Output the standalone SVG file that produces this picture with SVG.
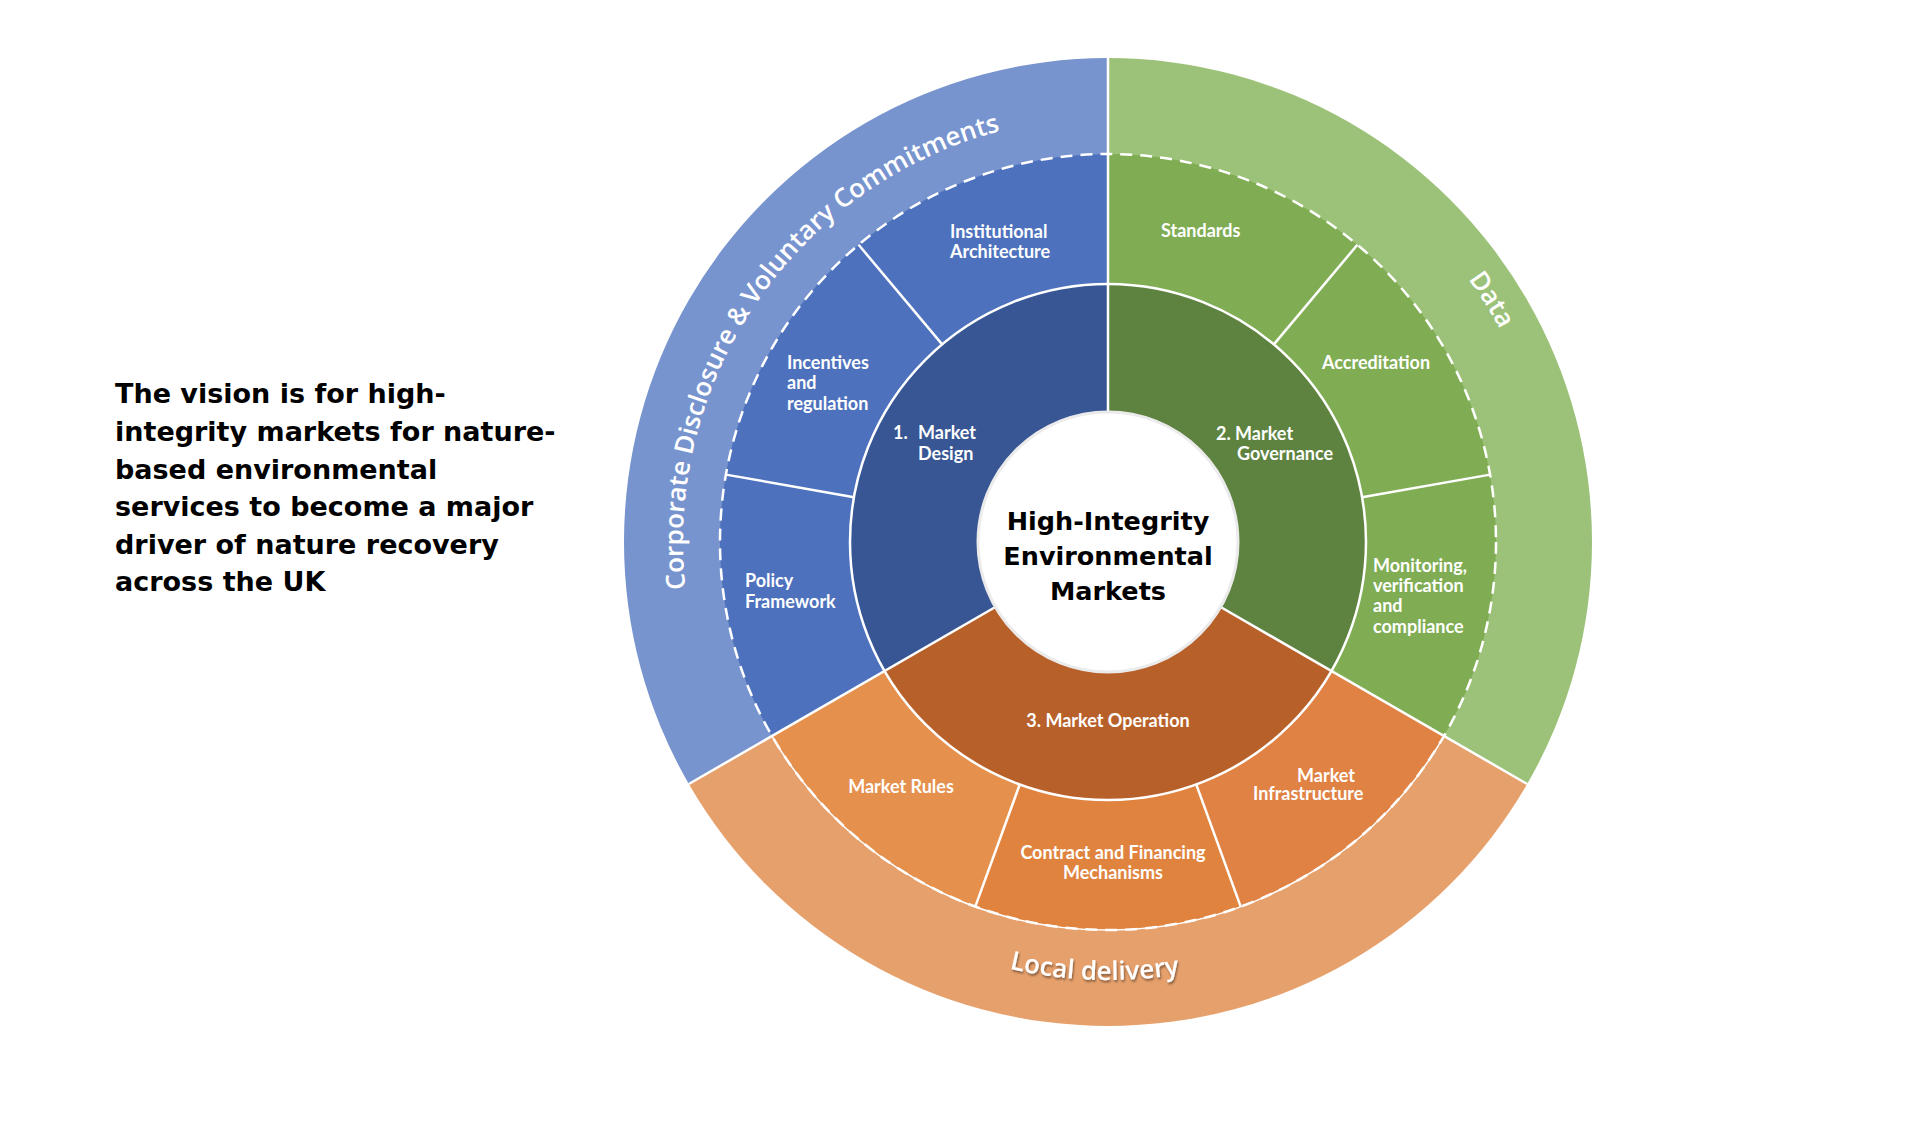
<svg xmlns="http://www.w3.org/2000/svg" width="1920" height="1134" viewBox="0 0 1920 1134">
<style>
.lbl{font-family:"Lato","Open Sans","Liberation Sans",sans-serif;font-weight:700;font-size:18px;fill:#ffffff;}
.mid{text-anchor:middle;}
.arc{font-family:"Open Sans","Lato","Liberation Sans",sans-serif;font-weight:600;font-size:26px;fill:#ffffff;}
.sep{stroke:#ffffff;stroke-width:2.5;fill:none;}
.vision{font-family:"DejaVu Sans","Verdana",sans-serif;font-weight:700;font-size:27px;fill:#000000;}
.core{font-family:"DejaVu Sans","Verdana",sans-serif;font-weight:700;font-size:25.5px;fill:#000000;text-anchor:middle;}
</style>
<defs>
<path id="pCorp" d="M 782.43 815.18 A 425 425 0 0 1 1246.37 140.15"/>
<path id="pData" d="M 1315.32 147.11 A 446 446 0 0 1 1553.64 524.10"/>
<path id="pLocal" d="M 721.99 748.98 A 438 438 0 0 0 1480.25 772.81"/>
<filter id="sh" x="-10%" y="-30%" width="120%" height="160%">
<feDropShadow dx="1" dy="2" stdDeviation="1.2" flood-color="#000000" flood-opacity="0.45"/>
</filter>
</defs>
<rect x="0" y="0" width="1920" height="1134" fill="#ffffff"/>

<g id="vision-text">
<text class="vision" x="115" y="403">The vision is for high-</text>
<text class="vision" x="115" y="441">integrity markets for nature-</text>
<text class="vision" x="115" y="479">based environmental</text>
<text class="vision" x="115" y="516">services to become a major</text>
<text class="vision" x="115" y="554">driver of nature recovery</text>
<text class="vision" x="115" y="591">across the UK</text>
</g>

<g id="outer-corporate">
<path d="M 1108 542 L 688.84 784 A 484 484 0 0 1 1108 58 Z" fill="#7894CE"/>
<text class="arc"><textPath href="#pCorp" startOffset="50%" text-anchor="middle">Corporate Disclosure &amp; Voluntary Commitments</textPath></text>
</g>
<g id="outer-data">
<path d="M 1108 542 L 1108 58 A 484 484 0 0 1 1527.16 784 Z" fill="#9CC27A"/>
<text class="arc"><textPath href="#pData" startOffset="50%" text-anchor="middle">Data</textPath></text>
</g>
<g id="outer-local">
<path d="M 1108 542 L 1527.16 784 A 484 484 0 0 1 688.84 784 Z" fill="#E6A06C"/>
<text class="arc" filter="url(#sh)"><textPath href="#pLocal" startOffset="50%" text-anchor="middle">Local delivery</textPath></text>
</g>

<g id="institutional-architecture">
<path d="M 1108 542 L 858.60 244.77 A 388 388 0 0 1 1108 154 Z" fill="#4D71BD"/>
<text class="lbl" x="950" y="238">Institutional</text>
<text class="lbl" x="950" y="258">Architecture</text>
</g>
<g id="incentives-regulation">
<path d="M 1108 542 L 725.89 474.62 A 388 388 0 0 1 858.60 244.77 Z" fill="#4D71BD"/>
<text class="lbl" x="787" y="369">Incentives</text>
<text class="lbl" x="787" y="389">and</text>
<text class="lbl" x="787" y="410">regulation</text>
</g>
<g id="policy-framework">
<path d="M 1108 542 L 771.98 736 A 388 388 0 0 1 725.89 474.62 Z" fill="#4D71BD"/>
<text class="lbl" x="745" y="587">Policy</text>
<text class="lbl" x="745" y="608">Framework</text>
</g>
<g id="standards">
<path d="M 1108 542 L 1108 154 A 388 388 0 0 1 1357.40 244.77 Z" fill="#80AD54"/>
<text class="lbl" x="1161" y="237">Standards</text>
</g>
<g id="accreditation">
<path d="M 1108 542 L 1357.40 244.77 A 388 388 0 0 1 1490.11 474.62 Z" fill="#80AD54"/>
<text class="lbl" x="1322" y="369">Accreditation</text>
</g>
<g id="monitoring">
<path d="M 1108 542 L 1490.11 474.62 A 388 388 0 0 1 1444.02 736 Z" fill="#80AD54"/>
<text class="lbl" x="1373" y="572">Monitoring,</text>
<text class="lbl" x="1373" y="592">verification</text>
<text class="lbl" x="1373" y="612">and</text>
<text class="lbl" x="1373" y="633">compliance</text>
</g>
<g id="market-infrastructure">
<path d="M 1108 542 L 1444.02 736 A 388 388 0 0 1 1240.70 906.60 Z" fill="#DF8244"/>
<text class="lbl" x="1297" y="782">Market</text>
<text class="lbl" x="1253" y="800">Infrastructure</text>
</g>
<g id="contract-financing">
<path d="M 1108 542 L 1240.70 906.60 A 388 388 0 0 1 975.30 906.60 Z" fill="#E0833F"/>
<text class="lbl mid" x="1113" y="859">Contract and Financing</text>
<text class="lbl mid" x="1113" y="879">Mechanisms</text>
</g>
<g id="market-rules">
<path d="M 1108 542 L 975.30 906.60 A 388 388 0 0 1 771.98 736 Z" fill="#E5904C"/>
<text class="lbl mid" x="901" y="793">Market Rules</text>
</g>

<g id="market-design">
<path d="M 1108 542 L 884.57 671 A 258 258 0 0 1 1108 284 Z" fill="#385694"/>
<text class="lbl" x="893" y="439">1.</text>
<text class="lbl" x="918" y="439">Market</text>
<text class="lbl" x="918" y="460">Design</text>
</g>
<g id="market-governance">
<path d="M 1108 542 L 1108 284 A 258 258 0 0 1 1331.43 671 Z" fill="#5E8240"/>
<text class="lbl" x="1216" y="440">2. Market</text>
<text class="lbl" x="1237" y="460">Governance</text>
</g>
<g id="market-operation">
<path d="M 1108 542 L 1331.43 671 A 258 258 0 0 1 884.57 671 Z" fill="#B8602A"/>
<text class="lbl mid" x="1108" y="727">3. Market Operation</text>
</g>

<g id="connectors">
<circle cx="1108" cy="542" r="258" class="sep"/>
<circle cx="1108" cy="542" r="388" fill="none" stroke="#ffffff" stroke-width="2.5" stroke-dasharray="12 8"/>
<path d="M 1444.02 736 A 388 388 0 0 1 771.98 736" fill="none" stroke="#ffffff" stroke-width="1.5"/>
<line x1="1108" y1="412" x2="1108" y2="58" class="sep"/>
<line x1="1220.58" y1="607" x2="1527.16" y2="784" class="sep"/>
<line x1="995.42" y1="607" x2="688.84" y2="784" class="sep"/>
<line x1="1273.84" y1="344.36" x2="1357.40" y2="244.77" class="sep"/>
<line x1="1362.08" y1="497.20" x2="1490.11" y2="474.62" class="sep"/>
<line x1="1196.24" y1="784.44" x2="1240.70" y2="906.60" class="sep"/>
<line x1="1019.76" y1="784.44" x2="975.30" y2="906.60" class="sep"/>
<line x1="853.92" y1="497.20" x2="725.89" y2="474.62" class="sep"/>
<line x1="942.16" y1="344.36" x2="858.60" y2="244.77" class="sep"/>
</g>

<g id="core">
<circle cx="1108" cy="542" r="130" fill="#ffffff" stroke="#ebebeb" stroke-width="3"/>
<text class="core" x="1108" y="530">High-Integrity</text>
<text class="core" x="1108" y="565">Environmental</text>
<text class="core" x="1108" y="600">Markets</text>
</g>
</svg>
